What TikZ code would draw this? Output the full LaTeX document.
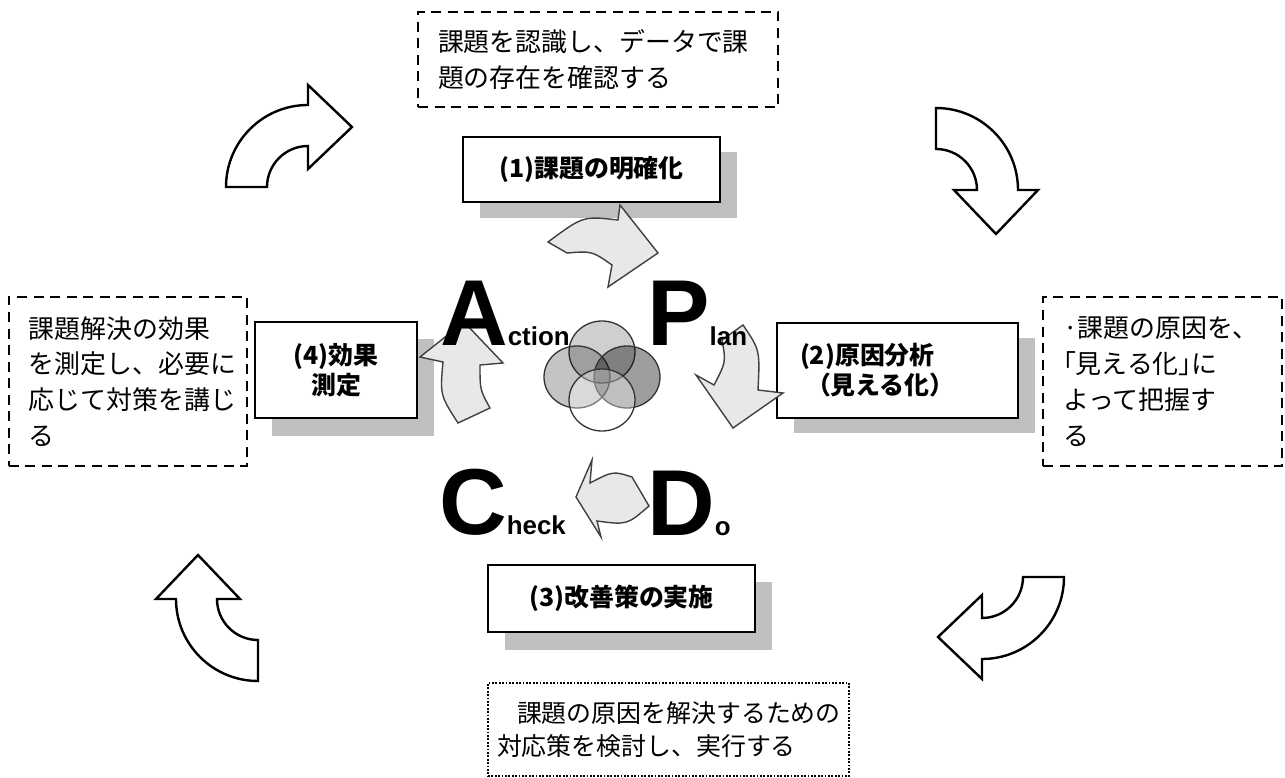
\documentclass[tikz,border=0pt]{standalone}
\usepackage{fontspec}
\setmainfont{Liberation Sans}
\newfontfamily\jp{Noto Sans CJK JP}
\begin{document}
\begin{tikzpicture}[x=1bp,y=-1bp,
  note/.style={draw=black, line width=2.3bp, dash pattern=on 10bp off 6.5bp, fill=white,
    inner xsep=20bp, inner ysep=0pt, align=left, anchor=center,
    font=\jp\fontsize{26}{36}\selectfont},
  dotnote/.style={note, dash pattern=on 1.8bp off 1.6bp, line width=1.8bp,
    font=\jp\fontsize{25}{33}\selectfont},
  phase/.style={draw=black, line width=2bp, fill=white, inner sep=0pt, align=center,
    font=\jp\bfseries\fontsize{25}{30}\selectfont},
  shadowfill/.style={fill=black!25},
  bigarrow/.style={draw=black, line width=2.4bp, fill=white, line join=miter},
  smallarrow/.style={draw=black!75, line width=1.4bp, fill=black!9, line join=miter},
  venn/.style={draw=black!80, line width=1.3bp},
  bigletter/.style={inner sep=0pt, anchor=base west, font=\bfseries}
]
\useasboundingbox (0,0) rectangle (1285,778);

% outer cycle of hollow curved arrows
\newcommand\cyclearrow[2]{%
  \begin{scope}[shift={#1}, rotate=#2]
    \draw[bigarrow] (-82,0) .. controls (-82,-45.3) and (-45.3,-82) .. (0,-82)
      -- (0,-102) -- (44,-60) -- (0,-18) -- (0,-41)
      .. controls (-22.6,-41) and (-41,-22.6) .. (-41,0) -- cycle;
  \end{scope}}
\cyclearrow{(308,187)}{0}
\cyclearrow{(936,190)}{-90}
\cyclearrow{(982,577)}{180}
\cyclearrow{(258,599)}{90}

% explanatory notes
\node[note, text width=320bp, minimum height=95bp] (noteplan) at (598,59.5)
  {課題を認識し、データで課\\題の存在を確認する};
\node[note, text width=198bp, minimum height=169bp] (noteact) at (128,381.5)
  {課題解決の効果\\を測定し、必要に\\応じて対策を講じ\\る};
\node[note, text width=199bp, minimum height=169bp] (notedo) at (1162.5,381.5)
  {·課題の原因を、\\｢見える化｣に\\よって把握す\\る};
\node[dotnote, inner xsep=9bp, text width=343bp, minimum height=93bp] (notecheck) at (668.5,729.5)
  {\hspace*{20bp}課題の原因を解決するための\\対応策を検討し、実行する};

% phase boxes with offset shadows
\fill[shadowfill] (480,152) rectangle (737,218);
\node[phase, minimum width=257bp, minimum height=65bp] (p1) at (591.5,169.5) {(1)課題の明確化};
\fill[shadowfill] (794,338) rectangle (1035,433);
\node[phase, minimum width=241bp, minimum height=95bp, align=left, text width=195bp] (p2) at (897.5,370.5)
  {(2)原因分析\\\hspace*{6bp}（見える化）};
\fill[shadowfill] (505,582) rectangle (772,650);
\node[phase, minimum width=267bp, minimum height=67bp] (p3) at (621.5,598.5) {(3)改善策の実施};
\fill[shadowfill] (272,339) rectangle (434,436);
\node[phase, minimum width=162bp, minimum height=96bp] (p4) at (336,370) {(4)効果\\測定};

% inner PDCA arrows
\draw[smallarrow] (548,242) .. controls (583,216) .. (618,220) -- (620,205) -- (658,253)
  -- (608,287) -- (612,265) .. controls (592,251) .. (567,253) -- cycle;
\draw[smallarrow] (743,325) .. controls (760,350) .. (758,390) -- (783,393) -- (733,428)
  -- (696,375) -- (714,385) .. controls (726,362) .. (722,340) -- cycle;
\draw[smallarrow] (649,506) .. controls (627,525) .. (597,521) -- (601,537) -- (576,497)
  -- (592,460) -- (590,483) .. controls (613,471) .. (632,477) -- cycle;
\draw[smallarrow] (458,423) .. controls (440,395) .. (443,362) -- (420,357) -- (464,322)
  -- (503,363) -- (480,365) .. controls (480,390) .. (490,408) -- cycle;

% overlapping circles in the middle
\filldraw[venn, fill=black, fill opacity=0.19] (602,352) ellipse [x radius=33, y radius=31];
\filldraw[venn, fill=black, fill opacity=0.23] (577,377) ellipse [x radius=33, y radius=31];
\filldraw[venn, fill=black, fill opacity=0.38] (627,377) ellipse [x radius=33, y radius=31];
\filldraw[venn, fill=white, fill opacity=0.35] (602,400) ellipse [x radius=33, y radius=31];

% PDCA letters
\node[bigletter] (act) at (440,345) {\fontsize{94}{94}\selectfont A\fontsize{26}{26}\selectfont ction};
\node[bigletter] (plan) at (647,345) {\fontsize{94}{94}\selectfont P\fontsize{26}{26}\selectfont lan};
\node[bigletter] (chk) at (439,534) {\fontsize{94}{94}\selectfont C\fontsize{26}{26}\selectfont heck};
\node[bigletter] (do) at (647,535) {\fontsize{94}{94}\selectfont D\fontsize{26}{26}\selectfont o};
\end{tikzpicture}
\end{document}
